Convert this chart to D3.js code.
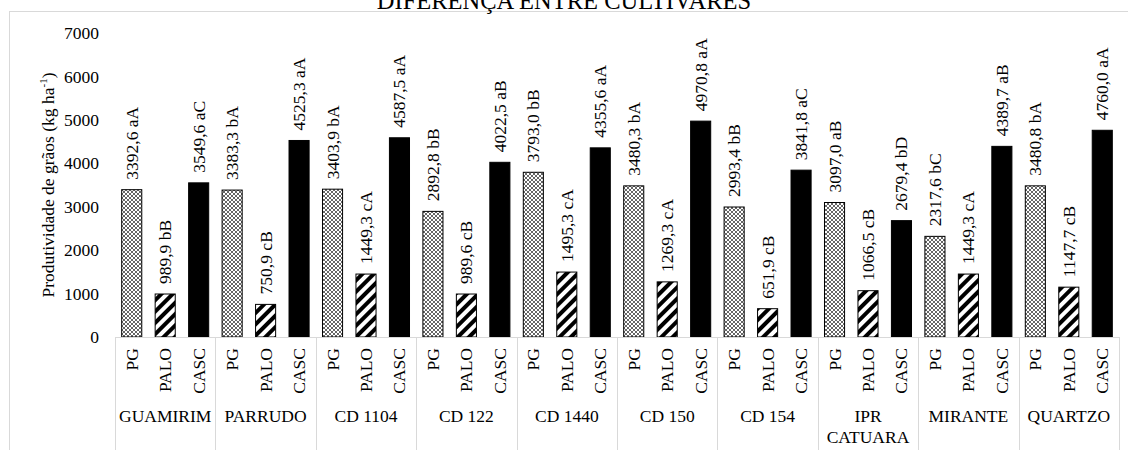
<!DOCTYPE html>
<html>
<head>
<meta charset="utf-8">
<script src="https://cdn.jsdelivr.net/npm/d3@7"></script>
<style>
  body { margin: 0; background: #fff; }
  text { font-family: "Liberation Serif", "Times New Roman", serif; fill: #000; }
</style>
</head>
<body>
<div id="vis"></div>
<script>
// cultivares e manejos
const groups = ["GUAMIRIM", "PARRUDO", "CD 1104", "CD 122", "CD 1440", "CD 150", "CD 154", "IPR CATUARA", "MIRANTE", "QUARTZO"];
const series = ["PG", "PALO", "CASC"];

const pgValues   = [3392.6, 3383.3, 3403.9, 2892.8, 3793.0, 3480.3, 2993.4, 3097.0, 2317.6, 3480.8];
const paloValues = [989.9, 750.9, 1449.3, 989.6, 1495.3, 1269.3, 651.9, 1066.5, 1449.3, 1147.7];
const cascValues = [3549.6, 4525.3, 4587.5, 4022.5, 4355.6, 4970.8, 3841.8, 2679.4, 4389.7, 4760.0];

// letras de significância
const pgLetters   = ["aA", "bA", "bA", "bB", "bB", "bA", "bB", "aB", "bC", "bA"];
const paloLetters = ["bB", "cB", "cA", "cB", "cA", "cA", "cB", "cB", "cA", "cB"];
const cascLetters = ["aC", "aA", "aA", "aB", "aA", "aA", "aC", "bD", "aB", "aA"];

const yTicks = [0, 1000, 2000, 3000, 4000, 5000, 6000, 7000];
const title = "DIFERENÇA ENTRE CULTIVARES";

const width = 1128;
const height = 450;

const valuesBySeries = { PG: pgValues, PALO: paloValues, CASC: cascValues };
const lettersBySeries = { PG: pgLetters, PALO: paloLetters, CASC: cascLetters };

const data = [];
groups.forEach((g, i) => {
    series.forEach(s => {
        data.push({ group: g, serie: s, value: valuesBySeries[s][i], letter: lettersBySeries[s][i] });
    });
});

const svg = d3.select("#vis").append("svg")
    .attr("width", width)
    .attr("height", height);

const defs = svg.append("defs");

// padrão quadriculado (PG)
const hatch = defs.append("pattern")
    .attr("id", "hatch")
    .attr("patternUnits", "userSpaceOnUse")
    .attr("width", 4)
    .attr("height", 4);
hatch.append("rect").attr("width", 4).attr("height", 4).attr("fill", "#fff");
hatch.append("path")
    .attr("d", "M0,0L4,4M4,0L0,4")
    .attr("stroke", "#666")
    .attr("stroke-width", 1);

// listras diagonais largas (PALO)
const stripes = defs.append("pattern")
    .attr("id", "stripes")
    .attr("patternUnits", "userSpaceOnUse")
    .attr("width", 8)
    .attr("height", 8)
    .attr("patternTransform", "rotate(45)");
stripes.append("rect").attr("width", 8).attr("height", 8).attr("fill", "#fff");
stripes.append("rect").attr("width", 4).attr("height", 8).attr("fill", "#000");

const fills = { PG: "url(#hatch)", PALO: "url(#stripes)", CASC: "#000" };

// borda do gráfico
svg.append("rect")
    .attr("x", 9.5)
    .attr("y", 11.5)
    .attr("width", width + 20)
    .attr("height", height + 20)
    .attr("fill", "none")
    .attr("stroke", "#d9d9d9");

svg.append("text")
    .attr("x", 564)
    .attr("y", 9)
    .attr("text-anchor", "middle")
    .style("font-size", "24.5px")
    .text(title);

const x0 = d3.scaleBand()
    .domain(groups)
    .range([115, 1119]);

const x1 = d3.scaleBand()
    .domain(series)
    .range([0, x0.bandwidth()])
    .paddingInner(0.4)
    .paddingOuter(0.2);

const y = d3.scaleLinear()
    .domain([0, 7000])
    .range([337, 33]);

// rótulos do eixo y
svg.append("g")
    .selectAll("text")
    .data(yTicks)
    .join("text")
    .attr("x", 99)
    .attr("y", d => y(d))
    .attr("dy", "0.35em")
    .attr("text-anchor", "end")
    .style("font-size", "17.5px")
    .text(d => d);

const yLabel = svg.append("text")
    .attr("transform", "translate(54,185) rotate(-90)")
    .attr("text-anchor", "middle")
    .style("font-size", "17.5px");
yLabel.append("tspan").text("Produtividade de grãos (kg ha");
yLabel.append("tspan").attr("dy", -7).style("font-size", "11px").text("-1");
yLabel.append("tspan").attr("dy", 7).text(")");

// barras
const bars = svg.append("g");
bars.selectAll("rect")
    .data(data)
    .join("rect")
    .attr("x", d => x0(d.group) + x1(d.serie))
    .attr("y", d => y(d.value))
    .attr("width", x1.bandwidth())
    .attr("height", d => y(0) - y(d.value))
    .attr("fill", d => fills[d.serie])
    .attr("stroke", "#000")
    .attr("stroke-width", 1);

// valores acima das barras
svg.append("g")
    .selectAll("text")
    .data(data)
    .join("text")
    .attr("transform", d => `translate(${x0(d.group) + x1(d.serie) + x1.bandwidth() / 2},${y(d.value) - 10}) rotate(-90)`)
    .attr("dominant-baseline", "central")
    .style("font-size", "17.5px")
    .text(d => d.value.toFixed(1).replace(".", ",") + " " + d.letter);

// eixo x em dois níveis
const axis = svg.append("g");
axis.append("line")
    .attr("x1", 115).attr("x2", 1119)
    .attr("y1", 337.5).attr("y2", 337.5)
    .attr("stroke", "#d9d9d9");

const bounds = groups.map(g => x0(g)).concat([x0.range()[1]]);
axis.selectAll(".sep")
    .data(bounds)
    .join("line")
    .attr("class", "sep")
    .attr("x1", d => Math.round(d) + 0.5)
    .attr("x2", d => Math.round(d) + 0.5)
    .attr("y1", 337)
    .attr("y2", 450)
    .attr("stroke", "#d9d9d9");

axis.selectAll(".sub")
    .data(data)
    .join("text")
    .attr("class", "sub")
    .attr("transform", d => `translate(${x0(d.group) + x1(d.serie) + x1.bandwidth() / 2},348) rotate(-90)`)
    .attr("text-anchor", "end")
    .attr("dominant-baseline", "central")
    .style("font-size", "17.5px")
    .text(d => d.serie);

axis.selectAll(".grp")
    .data(groups)
    .join("text")
    .attr("class", "grp")
    .attr("x", d => x0(d) + x0.bandwidth() / 2)
    .attr("y", 422)
    .attr("text-anchor", "middle")
    .style("font-size", "17.5px")
    .each(function(d) {
        const words = d === "IPR CATUARA" ? ["IPR", "CATUARA"] : [d];
        const t = d3.select(this);
        words.forEach((w, i) => {
            t.append("tspan")
                .attr("x", x0(d) + x0.bandwidth() / 2)
                .attr("dy", i === 0 ? 0 : 21)
                .text(w);
        });
    });
</script>
</body>
</html>
